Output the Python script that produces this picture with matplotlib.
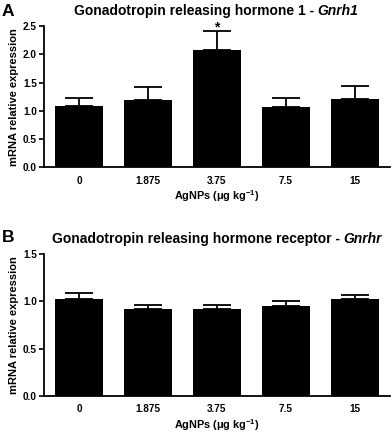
import matplotlib
matplotlib.use("Agg")
import matplotlib.pyplot as plt
import numpy as np

plt.rcParams['font.family'] = ['Liberation Sans', 'DejaVu Sans']
plt.rcParams['mathtext.fontset'] = 'custom'
plt.rcParams['mathtext.rm'] = 'Liberation Sans:bold'
plt.rcParams['mathtext.bf'] = 'Liberation Sans:bold'
plt.rcParams['mathtext.it'] = 'Liberation Sans:italic:bold'
plt.rcParams['axes.unicode_minus'] = False

doses = ["0", "1.875", "3.75", "7.5", "15"]
gnrh1_mean = [1.08, 1.19, 2.08, 1.07, 1.20]
gnrh1_upper = [1.22, 1.43, 2.41, 1.22, 1.44]
gnrhr_mean = [1.02, 0.92, 0.92, 0.95, 1.02]
gnrhr_upper = [1.09, 0.96, 0.96, 1.005, 1.07]
sig_a = ["", "", "*", "", ""]

fig = plt.figure(figsize=(3.92, 4.34), dpi=100)
axA = fig.add_axes([0.112, 0.6145, 0.883, 0.3255])
axB = fig.add_axes([0.112, 0.0883, 0.883, 0.3260])

def panel(ax, mean, upper, ymax, yt, sig=None):
    x = np.arange(len(doses))
    mean = np.array(mean); upper = np.array(upper)
    ax.bar(x, mean, width=0.7, color='black', zorder=2)
    ax.errorbar(x, mean, yerr=[np.zeros_like(mean), upper - mean], fmt='none',
                ecolor='black', elinewidth=1.3, capsize=10, capthick=1.3, zorder=1)
    ax.set_xlim(-0.51, 4.51)
    ax.set_ylim(0, ymax)
    ax.set_yticks(yt)
    ax.set_yticklabels([f"{v:.1f}" for v in yt], fontweight='bold', fontsize=7.2)
    ax.set_xticks(x)
    ax.set_xticklabels(doses, fontweight='bold', fontsize=7.2)
    ax.tick_params(axis='x', length=0, pad=6)
    ax.tick_params(axis='y', length=3.5, width=1.2, pad=1.5)
    for s in ['top', 'right']:
        ax.spines[s].set_visible(False)
    for s in ['left', 'bottom']:
        ax.spines[s].set_linewidth(1.3)
    ax.set_xlabel("AgNPs (μg kg$^{-1}$)", fontweight='bold', fontsize=7.8, labelpad=2)
    ax.set_ylabel("mRNA relative expression", fontweight='bold', fontsize=8, labelpad=3)
    if sig:
        for xi, s, u in zip(x, sig, upper):
            if s:
                ax.text(xi, u - 0.01, s, ha='center', va='baseline', fontsize=10, fontweight='bold')
    return ax

panel(axA, gnrh1_mean, gnrh1_upper, 2.5, [0.0, 0.5, 1.0, 1.5, 2.0, 2.5], sig_a)
panel(axB, gnrhr_mean, gnrhr_upper, 1.5, [0.0, 0.5, 1.0, 1.5])

renderer = fig.canvas.get_renderer()

def title(plain, ital, xc_px, yc_px, fs=10):
    t1 = fig.text(0, 1 - yc_px / 434, plain, ha='left', va='center',
                  fontsize=fs, fontweight='bold')
    t2 = fig.text(0, 1 - yc_px / 434, ital, ha='left', va='center',
                  fontsize=fs, fontweight='bold', fontstyle='italic')
    w1 = t1.get_window_extent(renderer).width
    w2 = t2.get_window_extent(renderer).width
    left = xc_px - (w1 + w2) / 2
    t1.set_x(left / 392)
    t2.set_x((left + w1) / 392)

title("Gonadotropin releasing hormone 1 - ", "Gnrh1", 216, 11)
title("Gonadotropin releasing hormone receptor - ", "Gnrhr", 217, 239)
fig.text(0.004, 1 - 11/434, "A", ha='left', va='center', fontsize=12.5, fontweight='bold')
fig.text(0.004, 1 - 238/434, "B", ha='left', va='center', fontsize=12.5, fontweight='bold')

fig.savefig("out.png", dpi=100)
